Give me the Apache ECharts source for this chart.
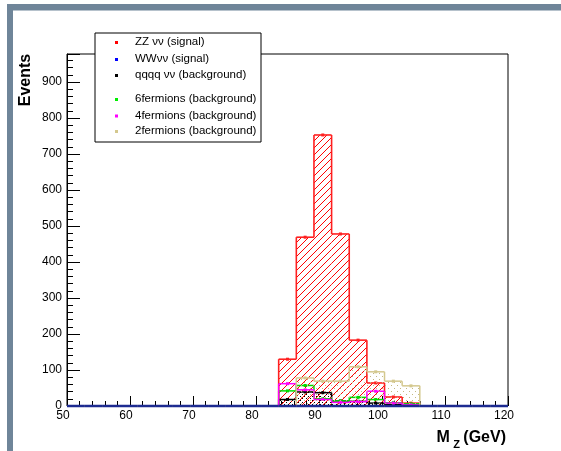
<!DOCTYPE html>
<html>
<head>
<meta charset="utf-8">
<script src="https://cdn.jsdelivr.net/npm/echarts@6/dist/echarts.min.js"></script>
<style>body{margin:0;background:#fff}</style>
</head>
<body>
<div id="chart" style="width:561px;height:451px"></div>
<script>
// Histogram binning: 25 bins of 2.8 GeV from 50 to 120 GeV (lower edges)
const binLow = [50.0, 52.8, 55.6, 58.4, 61.2, 64.0, 66.8, 69.6, 72.4, 75.2, 78.0, 80.8,
                83.6, 86.4, 89.2, 92.0, 94.8, 97.6, 100.4, 103.2, 106.0, 108.8, 111.6, 114.4, 117.2];
const binWidth = 2.8;

// Event counts per bin
const zzvv      = [0,0,0,0,0,0,0,0,0,0,0,0, 130, 469, 753, 478, 183, 64, 25, 8, 0, 0,0,0,0];
const wwvv      = [0,0,0,0,0,0,0,0,0,0,0,0,   0,   0,   0,   0,   0,  0,  0, 0, 0, 0,0,0,0];
const qqqqvv    = [0,0,0,0,0,0,0,0,0,0,0,0,  18,  39,  37,  14,  13,  8,  4, 2, 0, 0,0,0,0];
const sixFerm   = [0,0,0,0,0,0,0,0,0,0,0,0,  42,  57,  20,  14,  24, 18,  9, 6, 0, 0,0,0,0];
const fourFerm  = [0,0,0,0,0,0,0,0,0,0,0,0,  62,  45,  18,  10,  12, 41,  8, 3, 0, 0,0,0,0];
const twoFerm   = [0,0,0,0,0,0,0,0,0,0,0,0,   0,  78,  69,  69, 109, 95, 69, 56, 0, 0,0,0,0];

const legendLabels = ['ZZ \u03bd\u03bd (signal)', 'WW\u03bd\u03bd (signal)', 'qqqq \u03bd\u03bd (background)',
                      '6fermions (background)', '4fermions (background)', '2fermions (background)'];

const FONT = "'Liberation Sans', Arial, Helvetica, sans-serif";

// Dotted fill patterns built pixel by pixel on small canvases
function pixelPattern(color, size, pixels) {
  const c = document.createElement('canvas');
  c.width = size; c.height = size;
  const g = c.getContext('2d');
  g.fillStyle = color;
  pixels.forEach(p => g.fillRect(p[0], p[1], 1, 1));
  return { image: c, repeat: 'repeat' };
}
const blackDots = pixelPattern('rgb(0,0,0)', 4, [[0, 0], [2, 2]]);
const tanDots = pixelPattern('rgb(196,184,128)', 6, [[1, 1], [4, 4]]);

// "/" hatching: lines x + y = k * step, clipped to a pixel rectangle
function hatchLines(xL, yT, xR, yB, step, color) {
  const out = [];
  const kMin = Math.floor((xL + yT) / step), kMax = Math.ceil((xR + yB) / step);
  for (let k = kMin; k <= kMax; k++) {
    const c = k * step;
    const xa = Math.max(xL, c - yB), xb = Math.min(xR, c - yT);
    if (xb - xa > 0.3) {
      out.push({ type: 'line', shape: { x1: xa, y1: c - xa, x2: xb, y2: c - xb },
        style: { stroke: color, lineWidth: 1 } });
    }
  }
  return out;
}

function histSeries(name, values, color, fill, lineWidth, z, fullBaseline) {
  return {
    type: 'custom',
    name: name,
    coordinateSystem: 'cartesian2d',
    z: z,
    data: values.map((v, i) => [binLow[i], binLow[i] + binWidth, v, i > 0 ? values[i - 1] : 0]),
    encode: { x: [0, 1], y: 2 },
    renderItem: function (params, api) {
      const x0 = api.value(0), x1 = api.value(1), v = api.value(2), prev = api.value(3);
      const b0 = api.coord([x0, 0]);
      const t0 = api.coord([x0, v]);
      const t1 = api.coord([x1, v]);
      const p0 = api.coord([x0, prev]);
      let children = [];
      if (fill && v > 0) {
        if (fill.hatch) {
          children = children.concat(hatchLines(t0[0], t0[1], t1[0], b0[1], fill.step, fill.hatch));
        } else {
          children.push({
            type: 'rect',
            shape: { x: t0[0], y: t0[1], width: t1[0] - t0[0], height: b0[1] - t0[1] },
            style: { fill: fill }
          });
        }
      }
      if (prev !== v) {
        children.push({ type: 'line', shape: { x1: p0[0], y1: p0[1], x2: t0[0], y2: t0[1] },
          style: { stroke: color, lineWidth: lineWidth } });
      }
      if (v > 0 || fullBaseline) {
        children.push({ type: 'line', shape: { x1: t0[0], y1: t0[1], x2: t1[0], y2: t1[1] },
          style: { stroke: color, lineWidth: lineWidth } });
      }
      if (v > 0) {
        const cx = (t0[0] + t1[0]) / 2;
        children.push({
          type: 'rect',
          shape: { x: cx - 1.5, y: t0[1] - 1.5, width: 3, height: 3 },
          style: { fill: color }
        });
      }
      return { type: 'group', children: children };
    }
  };
}

const chart = echarts.init(document.getElementById('chart'), null, { renderer: 'canvas' });

const legendColors = ['#ff0000', '#0000ff', '#000000', '#00ee00', '#ff00ff', '#d4c88e'];
const legendRows = [42, 59, 75, 99, 115.5, 131];

const graphics = [
  // canvas border bands
  { type: 'rect', shape: { x: 7, y: 4, width: 554, height: 6.5 }, style: { fill: '#6f8599' }, z: 100 },
  { type: 'rect', shape: { x: 7, y: 4, width: 6, height: 447 }, style: { fill: '#6f8599' }, z: 100 },
  // axis titles
  { type: 'text', x: 26, y: 80, rotation: Math.PI / 2, z: 100,
    style: { text: 'Events', font: 'bold 16px ' + FONT, fill: '#000', align: 'center', verticalAlign: 'middle' } },
  { type: 'text', x: 506, y: 450, z: 100,
    style: { text: '{m|M} {s|Z} {m|(GeV)}', align: 'right', verticalAlign: 'bottom',
      rich: {
        m: { font: 'bold 16px ' + FONT, fill: '#000', verticalAlign: 'top', lineHeight: 16 },
        s: { font: 'bold 11px ' + FONT, fill: '#000', padding: [9, 0, 0, 0], verticalAlign: 'top', lineHeight: 20 }
      } } },
  // legend box
  { type: 'rect', shape: { x: 95, y: 33, width: 166, height: 109 }, z: 100,
    style: { fill: '#fff', stroke: '#000', lineWidth: 1 } }
];
legendLabels.forEach((label, i) => {
  graphics.push({ type: 'rect', shape: { x: 115, y: legendRows[i] - 1, width: 3, height: 3 },
    style: { fill: legendColors[i] }, z: 101 });
  graphics.push({ type: 'text', x: 135, y: legendRows[i], z: 101,
    style: { text: label, font: '11.5px ' + FONT, fill: '#000', verticalAlign: 'middle' } });
});

chart.setOption({
  animation: false,
  backgroundColor: '#ffffff',
  grid: { left: 67, top: 54, right: 53, bottom: 45, show: true, borderColor: '#000', borderWidth: 1, backgroundColor: 'transparent' },
  xAxis: {
    type: 'value', min: 50, max: 120, interval: 10,
    axisLine: { show: false },
    axisTick: { inside: true, length: 10, lineStyle: { color: '#000', width: 1 } },
    minorTick: { show: true, splitNumber: 5, length: 5, lineStyle: { color: '#000', width: 1 } },
    splitLine: { show: false },
    axisLabel: { margin: 4, color: '#000', font: 'bold 11px ' + FONT, padding: [0, 8, 0, 0] }
  },
  yAxis: {
    type: 'value', min: 0, max: 978, interval: 100,
    axisLine: { show: true, lineStyle: { color: '#000', width: 1 } },
    axisTick: { inside: true, length: 13, lineStyle: { color: '#000', width: 1 } },
    minorTick: { show: true, splitNumber: 5, length: 6, lineStyle: { color: '#000', width: 1 } },
    splitLine: { show: false },
    axisLabel: { margin: 5, color: '#000', font: 'bold 11px ' + FONT, showMaxLabel: false,
      formatter: v => (v % 100 === 0 ? String(v) : '') }
  },
  series: [
    histSeries('ZZvv', zzvv, '#ff2020', { hatch: '#ff0000', step: 7 }, 1.6, 2, false),
    histSeries('qqqqvv', qqqqvv, '#000000', blackDots, 1.5, 4, false),
    histSeries('6fermions', sixFerm, '#00dd00', null, 1.5, 5, false),
    histSeries('4fermions', fourFerm, '#ff00ff', null, 1.5, 6, false),
    histSeries('2fermions', twoFerm, '#d4c88e', tanDots, 1.5, 7, false),
    histSeries('WWvv', wwvv, '#1d2b91', null, 2.5, 8, true)
  ],
  graphic: graphics
});
</script>
</body>
</html>
